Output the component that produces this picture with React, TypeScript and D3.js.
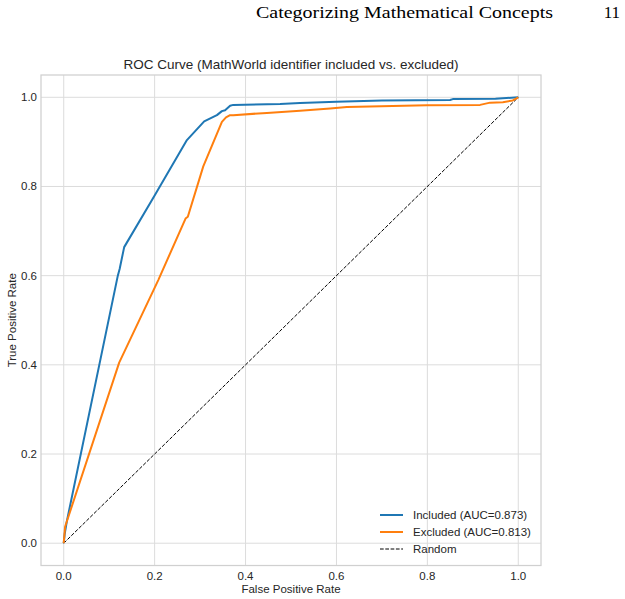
import React from "react";
import * as d3 from "d3";

// ROC points
const includedFpr = [0, 0.002, 0.007, 0.119, 0.123, 0.133, 0.2, 0.271, 0.309, 0.337, 0.348, 0.355, 0.366, 0.373, 0.476, 0.52, 0.6, 0.7, 0.85, 0.856, 0.95, 1.0];
const includedTpr = [0, 0.02, 0.05, 0.6, 0.615, 0.664, 0.78, 0.904, 0.946, 0.96, 0.969, 0.971, 0.981, 0.983, 0.985, 0.987, 0.99, 0.993, 0.994, 0.996, 0.997, 1.0];

const excludedFpr = [0, 0.003, 0.122, 0.208, 0.268, 0.273, 0.307, 0.348, 0.357, 0.366, 0.373, 0.447, 0.52, 0.586, 0.623, 0.799, 0.916, 0.938, 0.966, 0.988, 1.0];
const excludedTpr = [0, 0.037, 0.405, 0.59, 0.728, 0.732, 0.845, 0.945, 0.955, 0.96, 0.96, 0.965, 0.97, 0.975, 0.978, 0.982, 0.983, 0.988, 0.989, 0.993, 1.0];

const randomLine = [0, 1];
const ticks = [0, 0.2, 0.4, 0.6, 0.8, 1.0];

const series = [
  { name: "Included (AUC=0.873)", color: "#1f77b4", fpr: includedFpr, tpr: includedTpr },
  { name: "Excluded (AUC=0.813)", color: "#ff7f0e", fpr: excludedFpr, tpr: excludedTpr },
];

const W = 625;
const H = 599;
const left = 41;
const right = 541;
const top = 75;
const bottom = 565.5;

const font = "'Liberation Sans', Arial, sans-serif";
const textColor = "#262626";

export default function App() {
  const x = d3.scaleLinear().domain([-0.05, 1.05]).range([left, right]);
  const y = d3.scaleLinear().domain([-0.05, 1.05]).range([bottom, top]);
  const line = d3
    .line<[number, number]>()
    .x((d) => x(d[0]))
    .y((d) => y(d[1]));

  return (
    <svg
      width={W}
      height={H}
      style={{ position: "absolute", left: 0, top: 0, background: "#fff" }}
    >
      {/* page header */}
      <text
        x={553}
        y={18}
        textAnchor="end"
        fontFamily="'Liberation Serif', 'DejaVu Serif', serif"
        fontSize={17}
        textLength={297}
        lengthAdjust="spacingAndGlyphs"
        fill="#000"
      >
        Categorizing Mathematical Concepts
      </text>
      <text
        x={620}
        y={18}
        textAnchor="end"
        fontFamily="'Liberation Serif', 'DejaVu Serif', serif"
        fontSize={17}
        fill="#000"
      >
        11
      </text>

      {/* grid */}
      {ticks.map((t) => (
        <g key={"g" + t}>
          <line x1={x(t)} x2={x(t)} y1={top} y2={bottom} stroke="#dcdcdc" strokeWidth={1} />
          <line x1={left} x2={right} y1={y(t)} y2={y(t)} stroke="#dcdcdc" strokeWidth={1} />
        </g>
      ))}
      <rect
        x={left}
        y={top}
        width={right - left}
        height={bottom - top}
        fill="none"
        stroke="#d0d0d0"
        strokeWidth={1.25}
      />

      {/* random baseline */}
      <path
        d={line(randomLine.map((v) => [v, v]) as [number, number][]) || ""}
        fill="none"
        stroke="#000"
        strokeWidth={1}
        strokeDasharray="3.7,1.6"
      />

      {series.map((s) => (
        <path
          key={s.name}
          d={line(s.fpr.map((v, i) => [v, s.tpr[i]]) as [number, number][]) || ""}
          fill="none"
          stroke={s.color}
          strokeWidth={2}
          strokeLinejoin="round"
        />
      ))}

      {/* tick labels */}
      {ticks.map((t) => (
        <text
          key={"x" + t}
          x={x(t)}
          y={580}
          textAnchor="middle"
          fontFamily={font}
          fontSize={11.5}
          fill={textColor}
        >
          {t.toFixed(1)}
        </text>
      ))}
      {ticks.map((t) => (
        <text
          key={"y" + t}
          x={37}
          y={y(t) + 4}
          textAnchor="end"
          fontFamily={font}
          fontSize={11.5}
          fill={textColor}
        >
          {t.toFixed(1)}
        </text>
      ))}

      {/* axis labels and title */}
      <text x={(left + right) / 2} y={593} textAnchor="middle" fontFamily={font} fontSize={11.5} fill={textColor}>
        False Positive Rate
      </text>
      <text
        transform={`translate(16,${(top + bottom) / 2}) rotate(-90)`}
        textAnchor="middle"
        fontFamily={font}
        fontSize={11.5}
        fill={textColor}
      >
        True Positive Rate
      </text>
      <text x={(left + right) / 2} y={69} textAnchor="middle" fontFamily={font} fontSize={13.5} fill={textColor}>
        ROC Curve (MathWorld identifier included vs. excluded)
      </text>

      {/* legend */}
      {[...series.map((s) => ({ name: s.name, color: s.color, dash: "" })), { name: "Random", color: "#000", dash: "3.7,1.6" }].map(
        (item, i) => (
          <g key={item.name} transform={`translate(380,${515 + i * 17})`}>
            <line
              x1={0}
              x2={23}
              y1={0}
              y2={0}
              stroke={item.color}
              strokeWidth={item.dash ? 1 : 2}
              strokeDasharray={item.dash || undefined}
            />
            <text x={33} y={4} fontFamily={font} fontSize={11.5} fill={textColor}>
              {item.name}
            </text>
          </g>
        )
      )}
    </svg>
  );
}
